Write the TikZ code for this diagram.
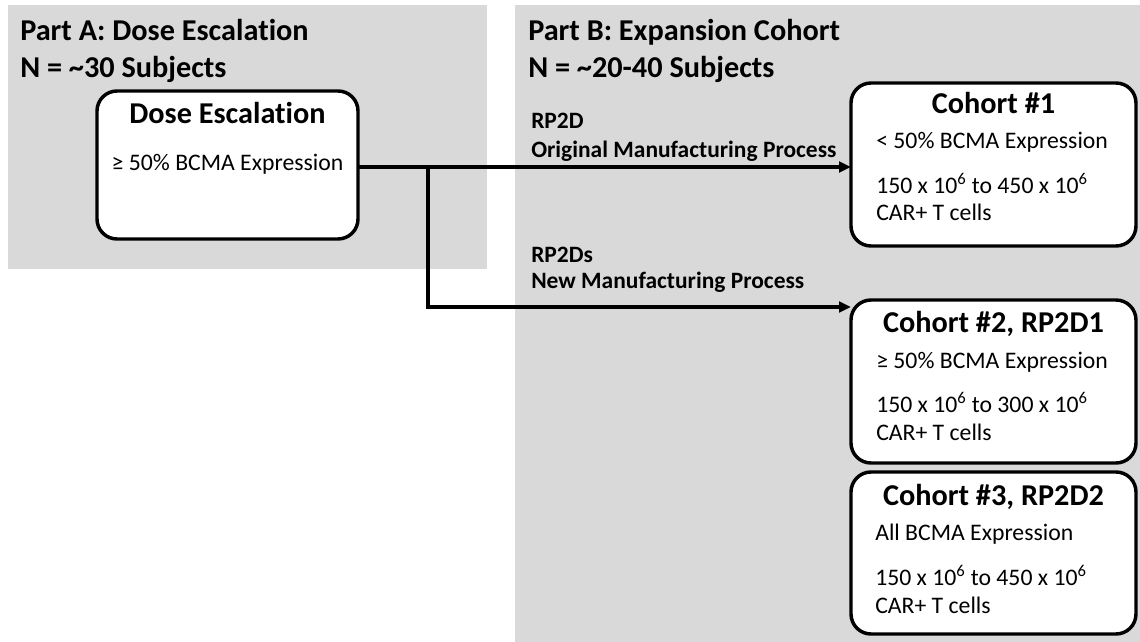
\documentclass[tikz,border=0pt]{standalone}
\usepackage{fontspec}
\setmainfont{Carlito}[Ligatures=NoCommon]
\usetikzlibrary{arrows.meta}
\definecolor{panelgray}{HTML}{D9D9D9}
\begin{document}
\begin{tikzpicture}[x=0.75pt,y=-0.75pt,
  panel/.style={fill=panelgray,draw=none},
  roundbox/.style={draw=black,fill=white,line width=2.6pt,rounded corners=15pt},
  header/.style={anchor=base west,font=\bfseries\fontsize{22.7}{26}\selectfont,inner sep=0pt},
  boxtitle/.style={anchor=base,font=\bfseries\fontsize{22.7}{26}\selectfont,inner sep=0pt},
  bodytext/.style={anchor=base west,font=\fontsize{17.8}{21}\selectfont,inner sep=0pt},
  pathlabel/.style={anchor=base west,font=\bfseries\fontsize{17.6}{21}\selectfont,inner sep=0pt},
  flowarrow/.style={line width=2.3pt,-{Triangle[length=9pt,width=8pt]}}]
\useasboundingbox (0,0) rectangle (1140,642);
\fill[white] (0,0) rectangle (1140,642);

% background panels
\path[panel] (8,5) rectangle (487,269);
\path[panel] (515,5) rectangle (1140,642);

% panel headers
\node[header] (hA1) at (20,41) {Part A: Dose Escalation};
\node[header] (hA2) at (20,78) {N = \textasciitilde30 Subjects};
\node[header] (hB1) at (528,41) {Part B: Expansion Cohort};
\node[header] (hB2) at (528,78) {N = \textasciitilde20-40 Subjects};

% dose escalation box
\path[roundbox] (97,91) rectangle (358,239);
\coordinate (deR) at (358,167);
\node[boxtitle] (deT) at (227.5,123) {Dose Escalation};
\node[bodytext,anchor=base] (deB) at (227.5,171) {≥ 50\% BCMA Expression};

% cohort boxes
\path[roundbox] (851,83) rectangle (1136,246);
\coordinate (c1L) at (851,167);
\node[boxtitle] (c1T) at (993.5,114) {Cohort \#1};
\node[bodytext] (c1a) at (876,149) {< 50\% BCMA Expression};
\node[bodytext] (c1b) at (876,193) {150 x 10\textsuperscript{6} to 450 x 10\textsuperscript{6}};
\node[bodytext] (c1c) at (876,220) {CAR+ T cells};

\path[roundbox] (851,300) rectangle (1136,463);
\coordinate (c2L) at (851,307);
\node[boxtitle] (c2T) at (993.5,332) {Cohort \#2, RP2D1};
\node[bodytext] (c2a) at (876,368) {≥ 50\% BCMA Expression};
\node[bodytext] (c2b) at (876,412) {150 x 10\textsuperscript{6} to 300 x 10\textsuperscript{6}};
\node[bodytext] (c2c) at (876,440) {CAR+ T cells};

\path[roundbox] (851,472) rectangle (1136,634);
\node[boxtitle] (c3T) at (993.5,505) {Cohort \#3, RP2D2};
\node[bodytext] (c3a) at (875,540) {All BCMA Expression};
\node[bodytext] (c3b) at (875,585) {150 x 10\textsuperscript{6} to 450 x 10\textsuperscript{6}};
\node[bodytext] (c3c) at (875,613) {CAR+ T cells};

% path labels
\node[pathlabel] (l1a) at (531,129) {RP2D};
\node[pathlabel] (l1b) at (531,157) {Original Manufacturing Process};
\node[pathlabel] (l2a) at (531,262) {RP2Ds};
\node[pathlabel] (l2b) at (531,288) {New Manufacturing Process};

% connectors
\coordinate (split) at (428,167);
\draw[flowarrow] (deR) -- (c1L);
\draw[flowarrow,line join=miter] (split) |- (c2L);
\end{tikzpicture}
\end{document}
